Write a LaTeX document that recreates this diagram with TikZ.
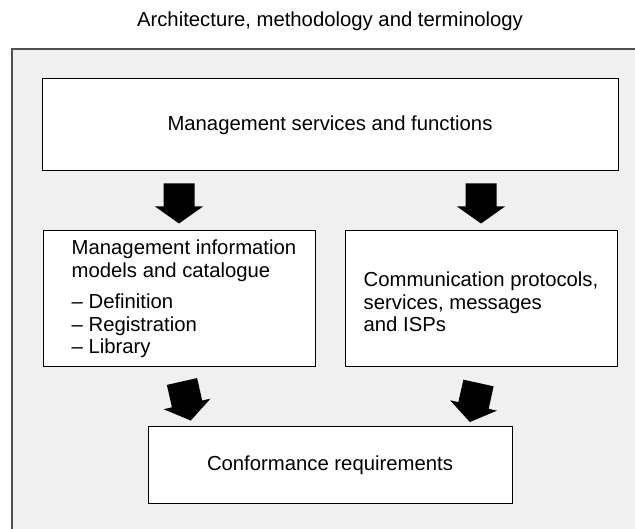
\documentclass[tikz,border=0pt]{standalone}
\usepackage{fontspec}
\setmainfont{Liberation Sans}
\usetikzlibrary{calc}
\definecolor{framefill}{RGB}{240,240,240}
\definecolor{frameline}{RGB}{80,80,80}
\newcommand\blockarr[2]{\fill[black, shift={(#1)}, rotate=#2] (-15.5,0) -- (15.5,0) -- (15.5,23) -- (24,23) -- (0,40) -- (-24,23) -- (-15.5,23) -- cycle;}
\begin{document}
\begin{tikzpicture}[x=1pt,y=-1pt,
  every node/.style={font=\fontsize{20.3}{22.5}\selectfont},
  box/.style={draw=black, line width=1pt, fill=white, rectangle, inner sep=0pt},
  boxtext/.style={align=left, inner sep=0pt}]
\path[use as bounding box] (0,0) rectangle (635,529);
\clip (0,0) rectangle (635,529);
\fill[white] (0,0) rectangle (635,529);
% outer frame
\draw[frameline, fill=framefill, line width=1.2pt] (12,49) rectangle (680,580);
\node[anchor=base] (title) at (330,27) {Architecture, methodology and terminology};
% boxes
\node[box, minimum width=576pt, minimum height=92pt] (svc) at (330,125) {Management services and functions};
\node[box, minimum width=272pt, minimum height=136pt] (mim) at (179,299) {};
\node[boxtext, anchor=west] (mimtext) at ($(mim.west)+(29,0)$)
  {Management information\\models and catalogue\\[9pt]\textendash\ Definition\\\textendash\ Registration\\\textendash\ Library};
\node[box, minimum width=272pt, minimum height=136pt] (cp) at (481,299) {};
\node[boxtext] (cptext) at ($(cp.center)+(0,3)$)
  {Communication protocols,\\services, messages\\and ISPs};
\node[box, minimum width=364pt, minimum height=76pt] (conf) at (330,465) {Conformance requirements};
% block arrows
\coordinate (a1) at ($(mim.north)+(0,-47)$);
\coordinate (a2) at ($(cp.north)+(0,-47)$);
\coordinate (a3) at ($(mim.south)+(3,14)$);
\coordinate (a4) at ($(cp.south)+(-2.5,15.5)$);
\blockarr{a1}{0}
\blockarr{a2}{0}
\blockarr{a3}{12.7}
\blockarr{a4}{-12.5}
\end{tikzpicture}
\end{document}
